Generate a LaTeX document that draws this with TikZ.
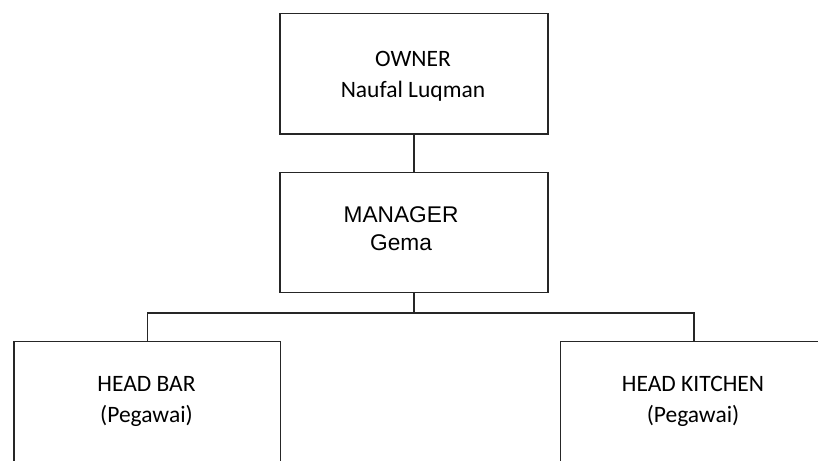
\documentclass[tikz,border=0pt]{standalone}
\usepackage{fontspec}
\setmainfont{Carlito}
\newfontfamily\arialfont{Liberation Sans}
\begin{document}
\begin{tikzpicture}[x=1pt,y=-1pt,
  orgbox/.style={draw=black!85, line width=1.2pt, rectangle, inner sep=0pt, anchor=north west},
  link/.style={draw=black!85, line width=1.2pt},
  lbl/.style={align=center, inner sep=0pt, font=\fontsize{23.5}{31}\selectfont}
]
\useasboundingbox (0,0) rectangle (818,460);
\clip (0,0) rectangle (818,460);
\node[orgbox, minimum width=268pt, minimum height=120.6pt] (owner) at (279.3,12.7) {};
\node[orgbox, minimum width=268pt, minimum height=119.7pt] (manager) at (279.3,172) {};
\node[orgbox, minimum width=266.7pt, minimum height=160pt] (bar) at (13.3,341) {};
\node[orgbox, minimum width=266.7pt, minimum height=160pt] (kitchen) at (560,341) {};
\node[lbl] (ownert) at (413,76) {OWNER\\Naufal Luqman};
\node[lbl, font=\arialfont\fontsize{22.7}{28}\selectfont] (managert) at (401,229) {MANAGER\\Gema};
\node[lbl] (bart) at (146.5,401) {HEAD BAR\\(Pegawai)};
\node[lbl] (kitchent) at (693,401) {HEAD KITCHEN\\(Pegawai)};
\path (manager.south) ++(0,20) coordinate (bus);
\draw[link] (owner.south) -- (manager.north);
\draw[link] (manager.south) -- (bus);
\draw[link] (bar.north) |- (bus) -| (kitchen.north);
\end{tikzpicture}
\end{document}
